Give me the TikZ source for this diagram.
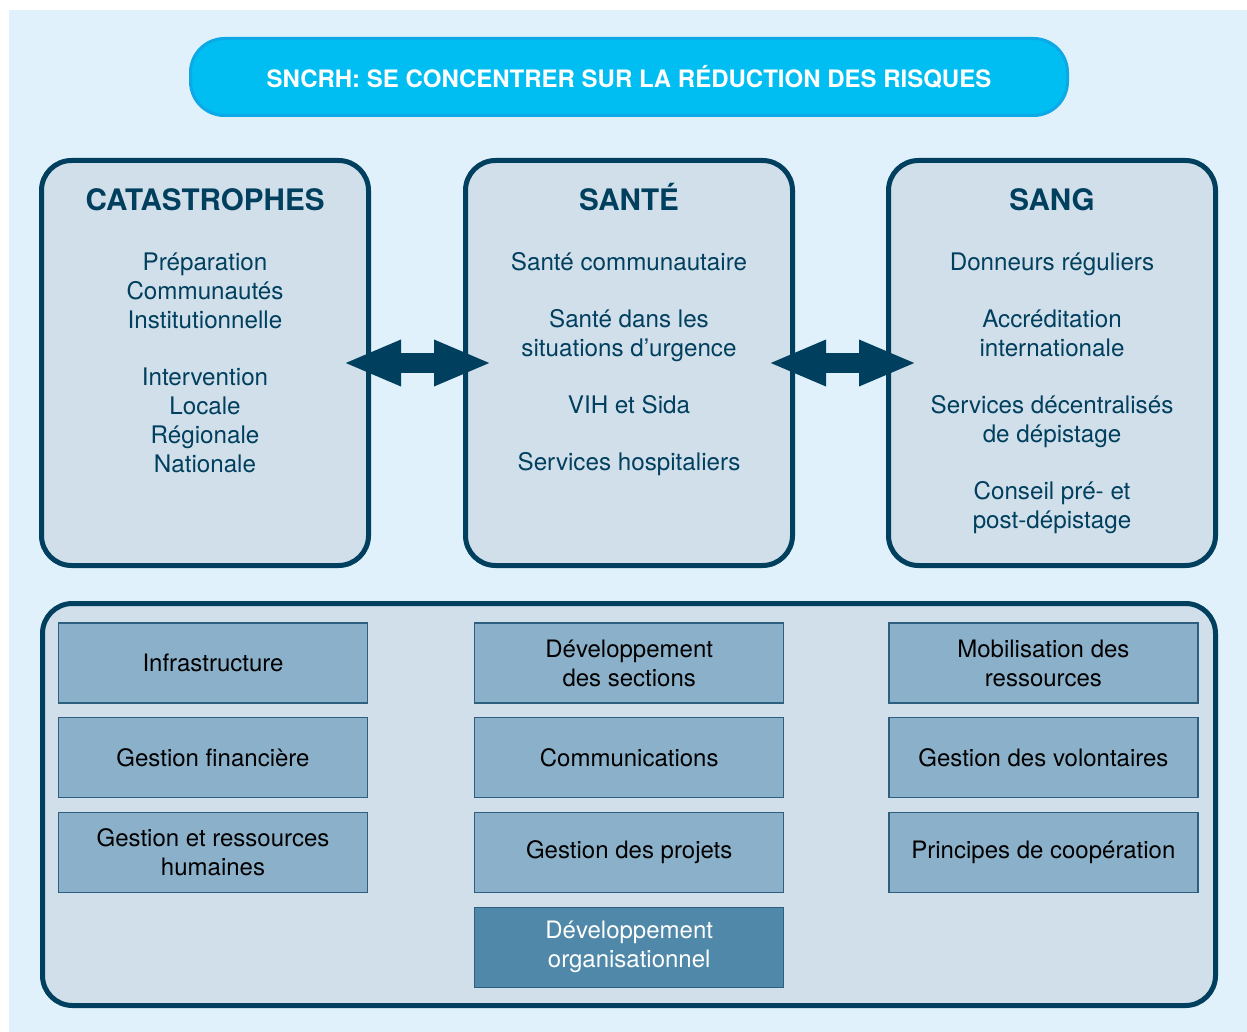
\documentclass[tikz,border=0pt]{standalone}
\usepackage{fontspec}
\setmainfont{TeX Gyre Heros}
\usetikzlibrary{positioning,arrows.meta}
\definecolor{bgblue}{HTML}{E0F1FB}
\definecolor{pillblue}{HTML}{00BEF2}
\definecolor{pillrim}{HTML}{0DA8E6}
\definecolor{navy}{HTML}{003F5E}
\definecolor{panelfill}{HTML}{D1DFEA}
\definecolor{tilefill}{HTML}{8BB0C9}
\definecolor{tilerim}{HTML}{2F5F7F}
\definecolor{tiledark}{HTML}{4F88A8}
\tikzset{
  panel/.style={draw=navy, line width=2.5pt, fill=panelfill, rounded corners=15pt,
    minimum width=163.5pt, minimum height=202.5pt},
  ptitle/.style={text=navy, font=\fontsize{14.8}{17}\selectfont\bfseries, anchor=base, inner sep=0pt},
  ptext/.style={text=navy, font=\fontsize{12.1}{14.5}\selectfont, align=center, anchor=north, inner sep=0pt},
  tile/.style={draw=tilerim, line width=0.6pt, fill=tilefill, minimum width=154.5pt, minimum height=40pt,
    font=\fontsize{12}{14.5}\selectfont, align=center},
  twoway/.style={navy, line width=10pt, {Triangle[length=29pt,width=21pt]}-{Triangle[length=29pt,width=21pt]}},
}
\begin{document}
\begin{tikzpicture}[x=0.5pt,y=-0.5pt]
\useasboundingbox (0,0) rectangle (1247,1032);
\fill[bgblue] (9,10) rectangle (1247,1032);
% header
\node[draw=pillrim, line width=1.5pt, fill=pillblue, rounded corners=17pt, minimum width=438.5pt,
  minimum height=38.5pt, text=white, font=\fontsize{12}{14}\selectfont\bfseries] (head) at (629,77)
  {SNCRH: SE CONCENTRER SUR LA RÉDUCTION DES RISQUES};
% three fields
\node[panel] (cat) at (205,363) {};
\node[panel, right=46pt of cat] (sante) {};
\node[panel, right=45.5pt of sante] (sang) {};
\node[ptitle] (cattl) at ([yshift=-26.5pt]cat.north) {CATASTROPHES};
\node[ptitle] (santetl) at ([yshift=-26.5pt]sante.north) {SANTÉ};
\node[ptitle] (sangtl) at ([yshift=-26.5pt]sang.north) {SANG};
\node[ptext] (cattx) at ([yshift=-47pt]cat.north)
  {Préparation\\Communautés\\Institutionnelle\\[14pt]Intervention\\Locale\\Régionale\\Nationale};
\node[ptext] (santetx) at ([yshift=-47pt]sante.north)
  {Santé communautaire\\[14pt]Santé dans les\\situations d’urgence\\[14pt]VIH et Sida\\[14pt]Services hospitaliers};
\node[ptext] (sangtx) at ([yshift=-47pt]sang.north)
  {Donneurs réguliers\\[14pt]Accréditation\\internationale\\[14pt]Services décentralisés\\de dépistage\\[14pt]Conseil pré- et\\post-dépistage};
\draw[twoway] ([xshift=-14pt]cat.east) -- ([xshift=14.5pt]sante.west);
\draw[twoway] ([xshift=-13.5pt]sante.east) -- ([xshift=15.5pt]sang.west);
% support functions
\node[draw=navy, line width=2.5pt, fill=panelfill, rounded corners=15pt, minimum width=586.5pt,
  minimum height=201pt] (base) at (629,804.5) {};
\node[tile] (infra) at (213,663) {Infrastructure};
\node[tile, below=6.75pt of infra] (fin) {Gestion financière};
\node[tile, below=6.75pt of fin] (rh) {Gestion et ressources\\humaines};
\node[tile, right=53pt of infra] (sect) {Développement\\des sections};
\node[tile, below=6.75pt of sect] (comm) {Communications};
\node[tile, below=6.75pt of comm] (proj) {Gestion des projets};
\node[tile, below=6.75pt of proj, fill=tiledark, text=white] (org) {Développement\\organisationnel};
\node[tile, right=52pt of sect] (mob) {Mobilisation des\\ressources};
\node[tile, below=6.75pt of mob] (vol) {Gestion des volontaires};
\node[tile, below=6.75pt of vol] (coop) {Principes de coopération};
\end{tikzpicture}
\end{document}
